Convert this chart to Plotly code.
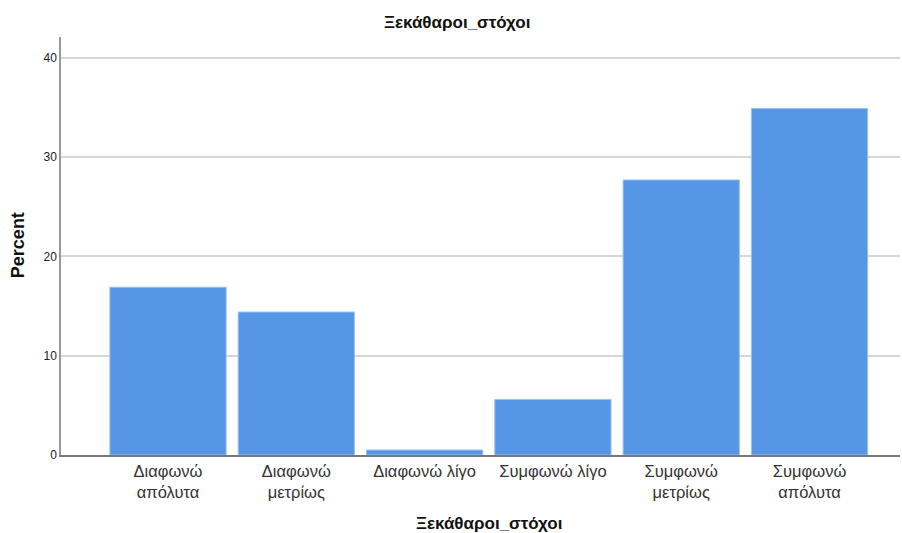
import plotly.graph_objects as go

# Response categories and their percentages
categories = ["Διαφωνώ<br>απόλυτα", "Διαφωνώ<br>μετρίως", "Διαφωνώ λίγο",
              "Συμφωνώ λίγο", "Συμφωνώ<br>μετρίως", "Συμφωνώ<br>απόλυτα"]
percent = [16.9, 14.4, 0.5, 5.6, 27.7, 34.9]
y_ticks = [0, 10, 20, 30, 40]

title_text = "Ξεκάθαροι_στόχοι"
font_family = "Liberation Sans, Arial, sans-serif"

fig = go.Figure(
    go.Bar(
        x=categories,
        y=percent,
        marker=dict(color="#5596e6", line=dict(color="#9cc0f0", width=1)),
        hoverinfo="skip",
    )
)

fig.update_layout(
    width=902,
    height=533,
    margin=dict(l=61, r=2, t=37, b=78),
    paper_bgcolor="white",
    plot_bgcolor="white",
    bargap=0.094,
    showlegend=False,
    font=dict(family=font_family, size=12, color="#222222"),
    annotations=[
        # chart title
        dict(text="<b>" + title_text + "</b>", xref="paper", yref="paper",
             x=(457 - 61) / 839, y=1 + 15 / 418, xanchor="center", yanchor="middle",
             showarrow=False, font=dict(size=17, color="#111111")),
        # x-axis title
        dict(text="<b>" + title_text + "</b>", xref="paper", yref="paper",
             x=(489 - 61) / 839, y=-68 / 418, xanchor="center", yanchor="middle",
             showarrow=False, font=dict(size=17, color="#111111")),
        # y-axis title
        dict(text="<b>Percent</b>", xref="paper", yref="paper",
             x=-43 / 839, y=0.502, xanchor="center", yanchor="middle", textangle=-90,
             showarrow=False, font=dict(size=18, color="#111111")),
    ],
)

fig.update_xaxes(
    type="category",
    range=[-0.834, 5.705],
    showgrid=False,
    showline=True,
    linecolor="#777777",
    linewidth=1.5,
    ticks="",
    tickfont=dict(size=16.5, color="#333333"),
)

fig.update_yaxes(
    range=[0, 42.1],
    tickvals=y_ticks,
    showgrid=True,
    gridcolor="#d6d6d6",
    gridwidth=1.5,
    zeroline=False,
    showline=True,
    linecolor="#999999",
    linewidth=1.5,
    ticks="",
    tickfont=dict(size=12, color="#222222"),
)

fig.write_html("out.html")
